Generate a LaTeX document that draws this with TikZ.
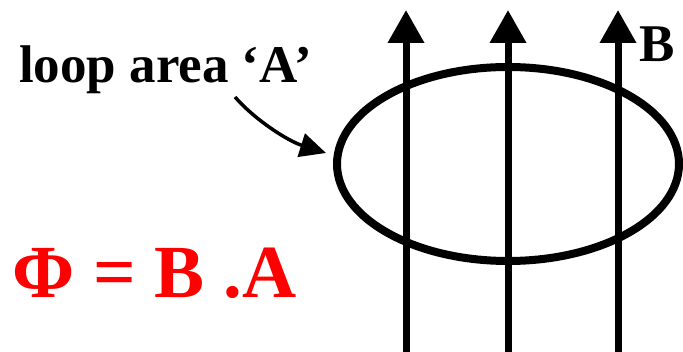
\documentclass[tikz,border=0pt]{standalone}
\usepackage{fontspec}
\newfontfamily\timesfam{Liberation Serif}
\usetikzlibrary{arrows.meta,shapes.geometric}
\definecolor{fluxred}{RGB}{255,0,0}
\tikzset{
  fieldline/.style={line width=7pt, -{Triangle[length=33pt, width=35pt]}},
  pointer/.style={line width=3.5pt, -{Triangle[length=26pt, width=24pt]}},
  lbl/.style={font=\timesfam\bfseries\fontsize{53}{60}\selectfont, inner sep=0pt, anchor=base west},
  eqn/.style={font=\timesfam\bfseries\fontsize{75}{85}\selectfont, text=fluxred, inner sep=0pt, anchor=base west}
}
\begin{document}
\begin{tikzpicture}[x=1pt, y=-1pt]
\useasboundingbox (0,0) rectangle (683,352);
\node[draw, ellipse, line width=8pt, minimum width=342pt, minimum height=194pt, inner sep=0pt] (loop) at (508,164) {};
\coordinate (b1) at (406,352); \coordinate (t1) at (406,10);
\coordinate (b2) at (508,352); \coordinate (t2) at (508,10);
\coordinate (b3) at (618,352); \coordinate (t3) at (618,10);
\draw[fieldline] (b1) -- (t1);
\draw[fieldline] (b2) -- (t2);
\draw[fieldline] (b3) -- (t3);
\node[lbl] (area) at (19,83) {loop area ‘A’};
\node[lbl] (B) at (639,62) {B};
\coordinate (ps) at (235,97);
\coordinate (pe) at (326,153);
\draw[pointer] (ps) .. controls (255,120) and (288,141) .. (pe);
\node[eqn] (flux) at (12,298) {Φ = B .A};
\end{tikzpicture}
\end{document}
